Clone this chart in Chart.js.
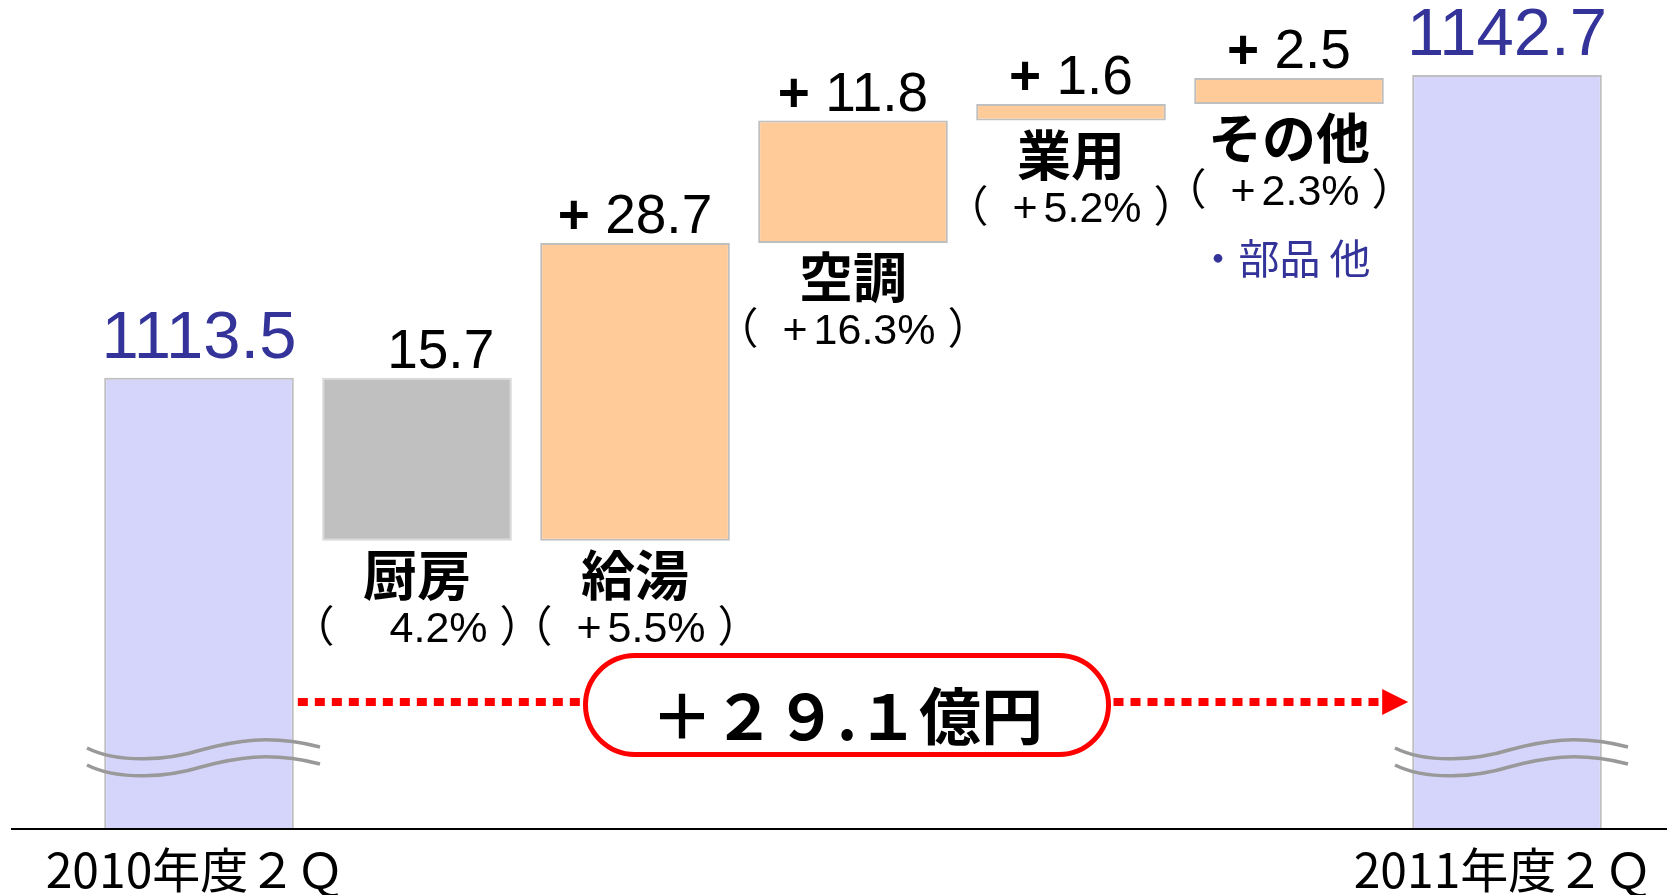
<!DOCTYPE html>
<html lang="ja">
<head>
<meta charset="utf-8">
<title>売上高 増減（2010年度２Ｑ → 2011年度２Ｑ）</title>
<script src="https://cdn.jsdelivr.net/npm/chart.js@4.4.1/dist/chart.umd.min.js"></script>
<style>
  html, body { margin: 0; padding: 0; background: #fff; }
  #wrap { width: 1667px; height: 895px; }
</style>
</head>
<body>
<div id="wrap"><canvas id="chart-waterfall" width="1667" height="895"></canvas></div>
<script>
// data (億円)
const categories = ['2010年度２Ｑ', '厨房', '給湯', '空調', '業用', 'その他', '2011年度２Ｑ'];
const startTotal = 1113.5;
const endTotal = 1142.7;
const changes = [-15.7, 28.7, 11.8, 1.6, 2.5];
const shares = [-4.2, 5.5, 16.3, 5.2, 2.3];
const totalChange = 29.1;
const otherNote = '・部品 他';

const NUM_FONT = '"Liberation Sans", Arial, sans-serif';
const JP_FONT = '"Noto Sans CJK JP", sans-serif';
const PCT_FONT = `43px "Liberation Sans", "Noto Sans CJK JP", sans-serif`;

// floating ranges for the waterfall
const buildData = () => {
    const out = [startTotal];
    let acc = startTotal;
    changes.forEach(c => {
        out.push([acc, +(acc + c).toFixed(1)]);
        acc += c;
    });
    out.push(endTotal);
    return out;
};

const fillColors = [
    '#D5D5FC',
    ...changes.map(c => c < 0 ? '#C0C0C0' : '#FFCC99'),
    '#D5D5FC'
];
const edgeColors = [
    '#BFBFBF',
    ...changes.map(c => c < 0 ? '#D9D9D9' : '#BFBFBF'),
    '#BFBFBF'
];

const toFullWidth = (s) => s.replace(/[0-9+]/g, ch => String.fromCharCode(ch.charCodeAt(0) + 0xFEE0));

// text made of runs with their own font, centred on cx
const drawPieces = (ctx, pieces, cx, y) => {
    const widths = pieces.map(p => { ctx.font = p.font; return ctx.measureText(p.text).width + (p.gap || 0); });
    let x = cx - widths.reduce((a, b) => a + b, 0) / 2;
    pieces.forEach((p, i) => {
        if (!p.hidden) {
            ctx.font = p.font;
            ctx.fillStyle = p.color || '#000';
            ctx.fillText(p.text, x, y);
        }
        x += widths[i];
    });
};

const drawBreak = (ctx, cx, y) => {
    ctx.strokeStyle = '#999999';
    ctx.lineWidth = 3.5;
    [0, 17].forEach(dy => {
        const yy = y + dy;
        ctx.beginPath();
        ctx.moveTo(cx - 112, yy);
        ctx.bezierCurveTo(cx - 80, yy + 16, cx - 30, yy + 12, cx + 2, yy + 2);
        ctx.bezierCurveTo(cx + 35, yy - 7, cx + 70, yy - 14, cx + 121, yy - 1);
        ctx.stroke();
    });
};

const pillPath = (ctx, x, y, w, h) => {
    const r = h / 2;
    ctx.beginPath();
    ctx.moveTo(x + r, y);
    ctx.lineTo(x + w - r, y);
    ctx.arc(x + w - r, y + r, r, -Math.PI / 2, Math.PI / 2);
    ctx.lineTo(x + r, y + h);
    ctx.arc(x + r, y + r, r, Math.PI / 2, Math.PI * 1.5);
    ctx.closePath();
};

const drawTotalBadge = (ctx, bars, area) => {
    const first = bars[0];
    const last = bars[bars.length - 1];
    const y = area.bottom - 127;
    const cx = (first.x + last.x) / 2 - 6;
    const w = 523, h = 99;
    const left = cx - w / 2;
    const right = cx + w / 2;
    const lastLeft = last.x - last.width / 2;

    ctx.strokeStyle = '#FF0000';
    ctx.lineWidth = 8;
    ctx.setLineDash([10, 7]);
    ctx.beginPath();
    ctx.moveTo(first.x + first.width / 2 + 4, y);
    ctx.lineTo(left, y);
    ctx.moveTo(right + 5, y);
    ctx.lineTo(lastLeft - 28, y);
    ctx.stroke();
    ctx.setLineDash([]);

    ctx.fillStyle = '#FF0000';
    ctx.beginPath();
    ctx.moveTo(lastLeft - 30, y - 13);
    ctx.lineTo(lastLeft - 4, y);
    ctx.lineTo(lastLeft - 30, y + 13);
    ctx.closePath();
    ctx.fill();

    pillPath(ctx, left, y - h / 2 + 3, w, h);
    ctx.fillStyle = '#fff';
    ctx.fill();
    ctx.lineWidth = 5;
    ctx.strokeStyle = '#FF0000';
    ctx.stroke();

    ctx.font = `bold 62px ${JP_FONT}`;
    ctx.fillStyle = '#000';
    ctx.textAlign = 'center';
    ctx.textBaseline = 'middle';
    ctx.fillText(`${toFullWidth('+')}${toFullWidth(String(Math.trunc(totalChange)))}.${toFullWidth(totalChange.toFixed(1).split('.')[1])}億円`, cx, y + 14);
    ctx.textAlign = 'left';
    ctx.textBaseline = 'alphabetic';
};

const waterfallLabels = {
    id: 'waterfallLabels',
    afterDatasetsDraw(chart) {
        const { ctx, chartArea } = chart;
        const bars = chart.getDatasetMeta(0).data;
        const last = bars.length - 1;
        const otherIdx = categories.indexOf('その他');

        ctx.save();
        ctx.textAlign = 'left';
        ctx.textBaseline = 'alphabetic';

        drawBreak(ctx, bars[0].x, chartArea.bottom - 81);
        drawBreak(ctx, bars[last].x, chartArea.bottom - 81);

        bars.forEach((b, i) => {
            const top = Math.min(b.y, b.base);
            const bottom = Math.max(b.y, b.base);
            if (i === 0 || i === last) {
                const v = i === 0 ? startTotal : endTotal;
                drawPieces(ctx, [{ text: v.toFixed(1), font: `67px ${NUM_FONT}`, color: '#333399' }], b.x, top - 20);
                // period label under the axis
                drawPieces(ctx, [{ text: categories[i], font: `48px ${JP_FONT}` }], b.x - 4, chartArea.bottom + 59);
                return;
            }
            const v = changes[i - 1];
            const p = shares[i - 1];
            drawPieces(ctx, [
                { text: '+', font: `bold 55px ${NUM_FONT}`, hidden: v < 0 },
                { text: ' ' + Math.abs(v).toFixed(1), font: `55px ${NUM_FONT}` }
            ], b.x, top - 10);
            drawPieces(ctx, [{ text: categories[i], font: `bold 54px ${JP_FONT}` }], b.x, bottom + 55);
            drawPieces(ctx, [
                { text: '（ ', font: PCT_FONT, gap: 12 },
                { text: '+', font: PCT_FONT, gap: 6, hidden: p < 0 },
                { text: Math.abs(p).toFixed(1) + '% ）', font: PCT_FONT }
            ], b.x, bottom + 101);
            if (i === otherIdx) {
                drawPieces(ctx, [{ text: otherNote, font: `41px ${JP_FONT}`, color: '#333399' }], b.x - 5, bottom + 170);
            }
        });

        // base line across the slide
        ctx.strokeStyle = '#000';
        ctx.lineWidth = 2;
        ctx.beginPath();
        ctx.moveTo(11, Math.round(chartArea.bottom));
        ctx.lineTo(chart.width, Math.round(chartArea.bottom));
        ctx.stroke();

        drawTotalBadge(ctx, bars, chartArea);
        ctx.restore();
    }
};

const ctxWaterfall = document.getElementById('chart-waterfall').getContext('2d');
new Chart(ctxWaterfall, {
    type: 'bar',
    data: {
        labels: categories,
        datasets: [{
            data: buildData(),
            backgroundColor: fillColors,
            borderColor: edgeColors,
            borderWidth: 2,
            borderSkipped: false,
            categoryPercentage: 1,
            barPercentage: 0.87
        }]
    },
    options: {
        responsive: false,
        animation: false,
        devicePixelRatio: 1,
        layout: { padding: { top: 20, left: 90, right: 51, bottom: 66 } },
        plugins: { legend: { display: false }, tooltip: { enabled: false } },
        scales: {
            x: { display: false, offset: true },
            y: { display: false, min: 1070, max: 1148 }
        }
    },
    plugins: [waterfallLabels]
});
</script>
</body>
</html>
